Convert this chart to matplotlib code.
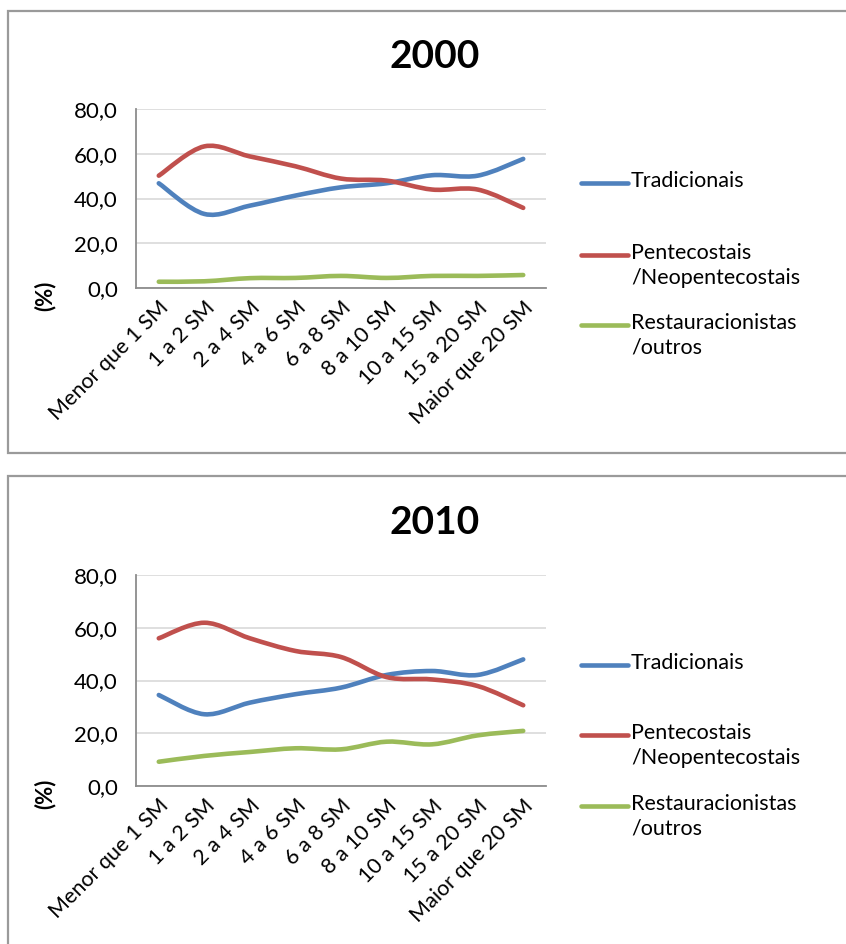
import numpy as np
import matplotlib
matplotlib.use("Agg")
import matplotlib.pyplot as plt
from matplotlib.path import Path
from matplotlib.patches import PathPatch, Rectangle
from matplotlib.lines import Line2D

plt.rcParams['font.family'] = ['Lato', 'DejaVu Sans']

faixas = ["Menor que 1 SM", "1 a 2 SM", "2 a 4 SM", "4 a 6 SM", "6 a 8 SM",
          "8 a 10 SM", "10 a 15 SM", "15 a 20 SM", "Maior que 20 SM"]
grupos = ["Tradicionais", "Pentecostais\n/Neopentecostais", "Restauracionistas\n/outros"]
cores = ["#4F81BD", "#C0504D", "#9BBB59"]

trad_2000 = [46.8, 33.1, 36.8, 41.3, 45.0, 46.8, 50.4, 50.2, 57.7]
pent_2000 = [50.2, 63.3, 58.8, 54.4, 48.9, 48.0, 44.0, 44.0, 35.8]
rest_2000 = [2.8, 3.0, 4.4, 4.5, 5.4, 4.5, 5.4, 5.4, 5.8]

trad_2010 = [34.5, 27.2, 31.6, 34.8, 37.3, 42.1, 43.6, 42.1, 48.0]
pent_2010 = [56.0, 61.9, 56.0, 51.2, 48.9, 41.3, 40.4, 37.9, 30.6]
rest_2010 = [9.2, 11.4, 12.9, 14.3, 13.9, 16.8, 15.8, 19.2, 20.9]

W, H = 846, 944
fig = plt.figure(figsize=(W / 100, H / 100), dpi=100)


def fx(x):
    return x / W


def fy(y):
    return 1 - y / H


def suave(ax, xs, ys, cor):
    # curva suavizada (Bezier do tipo Catmull-Rom) passando pelos pontos
    pts = np.column_stack([xs, ys]).astype(float)
    n = len(pts)
    verts = [pts[0]]
    codes = [Path.MOVETO]
    for i in range(n - 1):
        p0 = pts[max(i - 1, 0)]
        p1 = pts[i]
        p2 = pts[i + 1]
        p3 = pts[min(i + 2, n - 1)]
        c1 = p1 + (p2 - p0) / 6
        c2 = p2 - (p3 - p1) / 6
        verts += [c1, c2, p2]
        codes += [Path.CURVE4] * 3
    ax.add_patch(PathPatch(Path(verts, codes), facecolor="none", edgecolor=cor,
                           lw=3.3, capstyle="round", joinstyle="round", zorder=3))


def painel(box, eixo, titulo, ty, series, legy):
    bx0, by0, bx1, by1 = box
    fig.add_artist(Rectangle((fx(bx0), fy(by1)), fx(bx1) - fx(bx0), fy(by0) - fy(by1),
                             transform=fig.transFigure, facecolor="white",
                             edgecolor="#9a9a9a", lw=1.6, zorder=0))
    l, r, t, b = eixo
    ax = fig.add_axes([fx(l), fy(b), fx(r) - fx(l), fy(t) - fy(b)])
    x = np.arange(len(faixas))
    for ys, cor in zip(series, cores):
        suave(ax, x, ys, cor)
    ax.set_xlim(-0.5, len(faixas) - 0.5)
    ax.set_ylim(0, 80)
    ax.set_yticks([0, 20, 40, 60, 80])
    ax.set_yticklabels(["0,0", "20,0", "40,0", "60,0", "80,0"], fontsize=16)
    ax.set_xticks(x)
    ax.set_xticklabels(faixas, rotation=45, ha="right", va="top",
                       rotation_mode="anchor", fontsize=15.5)
    ax.tick_params(axis="y", length=0, pad=13)
    ax.tick_params(axis="x", length=0, pad=7)
    ax.grid(axis="y", color="#d9d9d9", lw=1.2)
    ax.set_axisbelow(True)
    for s in ["top", "right"]:
        ax.spines[s].set_visible(False)
    for s in ["left", "bottom"]:
        ax.spines[s].set_color("#8c8c8c")
        ax.spines[s].set_linewidth(1.3)
    fig.text(fx(45), fy(b + 8), "(%)", rotation=90, ha="center", va="center",
             fontsize=16, fontweight="bold")
    fig.text(fx(435), fy(ty), titulo, ha="center", va="center",
             fontsize=28, fontweight="bold")

    # legenda
    for (yy, nome, cor) in zip(legy, grupos, cores):
        fig.add_artist(Line2D([fx(581), fx(628)], [fy(yy), fy(yy)],
                              transform=fig.transFigure, color=cor, lw=3.3,
                              solid_capstyle="round"))
        fig.text(fx(631), fy(yy - 12), nome, ha="left", va="top",
                 fontsize=15.5, linespacing=1.3)


painel((8, 11, 860, 453), (136, 546, 109, 288), "2000", 57,
       [trad_2000, pent_2000, rest_2000], [183, 255, 325])
painel((8, 476, 860, 960), (136, 546, 575, 786), "2010", 522,
       [trad_2010, pent_2010, rest_2010], [665, 735, 806])

fig.savefig("out.png", dpi=100)
